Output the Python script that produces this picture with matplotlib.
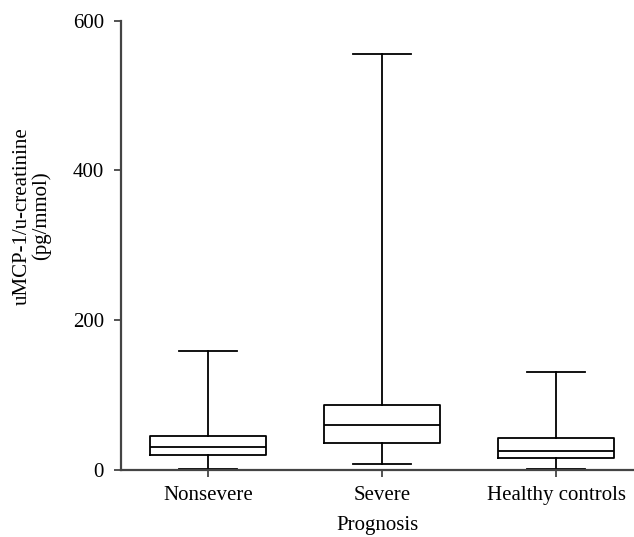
import matplotlib
matplotlib.use("Agg")
import matplotlib.pyplot as plt

# Box-plot summary (whiskers = min to max)
categories = ["Nonsevere", "Severe", "Healthy controls"]
minimum = [0.5, 8, 0.5]
q1 = [19, 36, 15.5]
median = [31, 60, 25]
q3 = [45, 86, 42]
maximum = [158, 555, 131]
yticks = [0, 200, 400, 600]

plt.rcParams["font.family"] = ["Liberation Serif", "DejaVu Serif"]

fig = plt.figure(figsize=(6.34, 5.37), dpi=100)
ax = fig.add_axes([0.1904, 0.1253, 0.8096, 0.8362])

stats = []
for i, name in enumerate(categories):
    stats.append(dict(label=name, whislo=minimum[i], q1=q1[i], med=median[i],
                      q3=q3[i], whishi=maximum[i]))

line_kw = dict(color="black", linewidth=1.3)
ax.bxp(stats, positions=range(len(categories)), widths=0.667,
       showfliers=False, capwidths=0.33,
       boxprops=line_kw, medianprops=line_kw,
       whiskerprops=line_kw, capprops=line_kw)

ax.set_xlim(-0.502, 2.448)
ax.set_ylim(0, 600)
ax.set_yticks(yticks)
ax.set_xticks(range(len(categories)))
ax.set_xticklabels(categories)

for side in ("top", "right"):
    ax.spines[side].set_visible(False)
for side in ("left", "bottom"):
    ax.spines[side].set_color("#444444")
    ax.spines[side].set_linewidth(1.6)

ax.tick_params(axis="both", direction="out", length=5, width=1.3,
               color="#444444", labelsize=15, pad=7)

ax.set_ylabel("uMCP-1/u-creatinine\n(pg/mmol)", fontsize=15, linespacing=1.0)
ax.yaxis.set_label_coords(-0.135, 0.565)
ax.set_xlabel("Prognosis", fontsize=15, labelpad=8)

fig.savefig("out.png", dpi=100)
